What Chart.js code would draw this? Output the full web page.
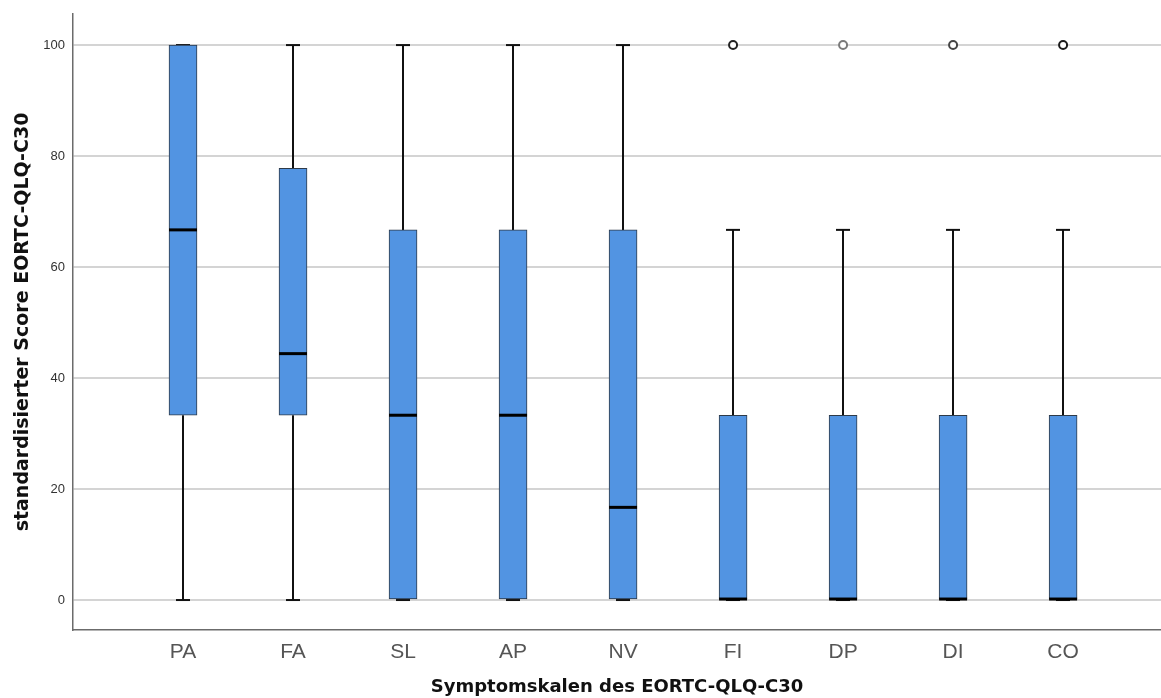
<!DOCTYPE html>
<html>
<head>
<meta charset="utf-8">
<script src="https://cdn.jsdelivr.net/npm/chart.js@4/dist/chart.umd.min.js"></script>
<style>
  html, body { margin: 0; padding: 0; background: #fff; }
  #wrap { width: 1161px; height: 698px; position: relative; }
</style>
</head>
<body>
<div id="wrap"><canvas id="c"></canvas></div>
<script>
// Symptom scales of the EORTC QLQ-C30 (standardised scores, 0-100)
const scales    = ['PA', 'FA', 'SL', 'AP', 'NV', 'FI', 'DP', 'DI', 'CO'];
const whiskLow  = [0, 0, 0, 0, 0, 0, 0, 0, 0];
const quart1    = [33.3, 33.3, 0, 0, 0, 0, 0, 0, 0];
const medians   = [66.7, 44.4, 33.3, 33.3, 16.7, 0, 0, 0, 0];
const quart3    = [100, 77.8, 66.7, 66.7, 66.7, 33.3, 33.3, 33.3, 33.3];
const whiskHigh = [100, 100, 100, 100, 100, 66.7, 66.7, 66.7, 66.7];
// outliers: [scale index, value]
const outliers  = [[5, 100], [6, 100], [7, 100], [8, 100]];
const yTicks    = [0, 20, 40, 60, 80, 100];

const boxData = scales.map((_, i) => ({ x: i, y: [quart1[i], quart3[i]] }));
const outlierData = outliers.map(([i, v]) => ({ x: i, y: v }));
const outlierColors = ['#222', '#7a7a7a', '#444', '#1a1a1a'];

// whiskers, caps and median lines, placed through the chart's scales
const boxExtras = {
  id: 'boxExtras',
  beforeDatasetsDraw(chart) {
    const { ctx, scales: { x, y } } = chart;
    ctx.save();
    ctx.strokeStyle = '#111';
    ctx.lineWidth = 2;
    scales.forEach((_, i) => {
      const cx = Math.round(x.getPixelForValue(i));
      const capHalf = 7;
      const segs = [[whiskLow[i], quart1[i]], [quart3[i], whiskHigh[i]]];
      segs.forEach(([a, b]) => {
        if (a === b) return;
        ctx.beginPath();
        ctx.moveTo(cx, y.getPixelForValue(a));
        ctx.lineTo(cx, y.getPixelForValue(b));
        ctx.stroke();
      });
      [whiskLow[i], whiskHigh[i]].forEach(v => {
        const py = y.getPixelForValue(v);
        ctx.beginPath();
        ctx.moveTo(cx - capHalf, py);
        ctx.lineTo(cx + capHalf, py);
        ctx.stroke();
      });
    });
    ctx.restore();
  },
  afterDatasetsDraw(chart) {
    const { ctx, scales: { x, y } } = chart;
    ctx.save();
    ctx.strokeStyle = '#000';
    ctx.lineWidth = 3;
    scales.forEach((_, i) => {
      const cx = x.getPixelForValue(i);
      const py = y.getPixelForValue(medians[i]);
      const off = medians[i] === quart1[i] ? -1 : 0;
      ctx.beginPath();
      ctx.moveTo(cx - 14, py + off);
      ctx.lineTo(cx + 14, py + off);
      ctx.stroke();
    });
    ctx.restore();
  }
};

new Chart(document.getElementById('c'), {
  type: 'bar',
  data: {
    datasets: [
      {
        type: 'scatter',
        data: outlierData,
        pointRadius: 4,
        pointHoverRadius: 4,
        pointBackgroundColor: '#fff',
        pointBorderColor: outlierColors,
        pointBorderWidth: 2,
        order: 0
      },
      {
        type: 'bar',
        data: boxData,
        backgroundColor: '#5294e2',
        borderColor: '#2e3a48',
        borderWidth: 1,
        borderSkipped: false,
        barThickness: 28,
        order: 1
      }
    ]
  },
  options: {
    responsive: true,
    maintainAspectRatio: false,
    animation: false,
    events: [],
    layout: { autoPadding: false, padding: { top: 14, left: 0, right: 0, bottom: 0 } },
    plugins: { legend: { display: false }, tooltip: { enabled: false } },
    scales: {
      x: {
        type: 'linear',
        offset: false,
        min: -1,
        max: 8.89,
        afterBuildTicks(s) { s.ticks = scales.map((_, i) => ({ value: i })); },
        afterFit(s) { s.height = 68; s.paddingLeft = 0; s.paddingRight = 0; },
        grid: { display: false, drawTicks: false },
        border: { display: true, color: '#6b6b6b', width: 1.5 },
        ticks: {
          autoSkip: false,
          maxRotation: 0,
          padding: 10,
          color: '#555',
          font: { family: 'Liberation Sans', size: 21 },
          callback: v => scales[v]
        },
        title: {
          display: true,
          text: 'Symptomskalen des EORTC-QLQ-C30',
          color: '#111',
          font: { family: 'DejaVu Sans', size: 18, weight: 'bold' },
          padding: { top: 0, bottom: 0 }
        }
      },
      y: {
        type: 'linear',
        min: -5.4,
        max: 105.6,
        afterBuildTicks(s) { s.ticks = yTicks.map(v => ({ value: v })); },
        afterFit(s) { s.width = 73; s.paddingTop = 0; s.paddingBottom = 0; },
        grid: { color: '#d4d4d4', lineWidth: 2, drawTicks: false },
        border: { display: true, color: '#6b6b6b', width: 1.5 },
        ticks: {
          padding: 8,
          color: '#333',
          font: { family: 'Liberation Sans', size: 13 }
        },
        title: {
          display: true,
          text: 'standardisierter Score EORTC-QLQ-C30',
          color: '#111',
          font: { family: 'DejaVu Sans', size: 19, weight: 'bold' },
          padding: { top: 12, bottom: 0 }
        }
      }
    }
  },
  plugins: [boxExtras]
});
</script>
</body>
</html>
